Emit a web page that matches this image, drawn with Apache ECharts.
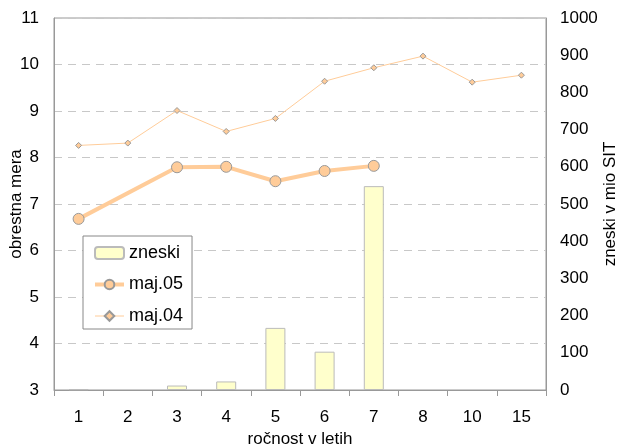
<!DOCTYPE html>
<html>
<head>
<meta charset="utf-8">
<script src="https://cdn.jsdelivr.net/npm/echarts@6/dist/echarts.min.js"></script>
<style>
html,body{margin:0;padding:0;background:#fff;}
#c{width:621px;height:447px;}
</style>
</head>
<body>
<div id="c"></div>
<script>
var categories = ['1','2','3','4','5','6','7','8','10','15'];
var zneski = [2, null, 12, 23, 167, 103, 548, null, null, null];
var maj05 = [6.68, null, 7.79, 7.80, 7.49, 7.71, 7.82, null, null, null];
var maj04 = [8.26, 8.31, 9.01, 8.56, 8.84, 9.64, 9.93, 10.18, 9.62, 9.77];

var font = 'Liberation Sans, Arial, sans-serif';
var chart = echarts.init(document.getElementById('c'));
chart.setOption({
  animation: false,
  textStyle: {fontFamily: font},
  grid: {left: 54, right: 75, top: 18, bottom: 57, containLabel: false, outerBoundsMode: 'none', show: true, borderColor: '#999', borderWidth: 1, backgroundColor: 'transparent'},
  legend: {
    data: [
      {name: 'zneski'},
      {name: 'maj.05', lineStyle: {width: 4}},
      {name: 'maj.04', lineStyle: {width: 1}}
    ],
    orient: 'vertical',
    left: 83, top: 236,
    itemWidth: 29, itemHeight: 12, itemGap: 13.5,
    padding: [8, 9, 4, 10],
    backgroundColor: '#fff', borderColor: '#888', borderWidth: 1, borderRadius: 0,
    textStyle: {fontFamily: font, fontSize: 18, color: '#000'}
  },
  xAxis: {
    type: 'category', data: categories, boundaryGap: true,
    name: 'ročnost v letih', nameLocation: 'middle', nameGap: 40,
    nameTextStyle: {fontFamily: font, fontSize: 17, color: '#000'},
    axisLine: {lineStyle: {color: '#999'}},
    axisTick: {show: true, length: 6, lineStyle: {color: '#999'}},
    axisLabel: {fontFamily: font, fontSize: 17, color: '#000', margin: 19},
    splitLine: {show: false}
  },
  yAxis: [{
    type: 'value', min: 3, max: 11, interval: 1,
    name: 'obrestna mera', nameLocation: 'middle', nameRotate: 90, nameGap: 29,
    nameMoveOverlap: false,
    nameTextStyle: {fontFamily: font, fontSize: 17, color: '#000'},
    axisLine: {show: true, lineStyle: {color: '#999'}},
    axisTick: {show: false},
    axisLabel: {fontFamily: font, fontSize: 17, color: '#000', margin: 15},
    splitLine: {show: true, lineStyle: {color: '#c8c8c8', type: [8, 6]}}
  }, {
    type: 'value', min: 0, max: 1000, interval: 100,
    name: 'zneski v mio SIT', nameLocation: 'middle', nameRotate: 90, nameGap: 56,
    nameMoveOverlap: false,
    nameTextStyle: {fontFamily: font, fontSize: 17, color: '#000'},
    axisLine: {show: true, lineStyle: {color: '#999'}},
    axisTick: {show: false},
    axisLabel: {fontFamily: font, fontSize: 17, color: '#000', margin: 14, formatter: function (v) { return String(v); }},
    splitLine: {show: false}
  }],
  series: [{
    name: 'zneski', type: 'bar', yAxisIndex: 1, data: zneski, barWidth: 20,
    itemStyle: {color: '#FFFFCC', borderColor: '#BBBBBB', borderWidth: 1},
    z: 1
  }, {
    name: 'maj.05', type: 'line', yAxisIndex: 0, data: maj05, connectNulls: true,
    symbol: 'circle', symbolSize: 11, showAllSymbol: true,
    lineStyle: {color: '#FFCC99', width: 4},
    itemStyle: {color: '#FFCC99', borderColor: '#999', borderWidth: 1},
    z: 3
  }, {
    name: 'maj.04', type: 'line', yAxisIndex: 0, data: maj04,
    symbol: 'diamond', symbolSize: 6, showAllSymbol: true,
    lineStyle: {color: '#FFCC99', width: 1},
    itemStyle: {color: '#FFCC99', borderColor: '#999', borderWidth: 1},
    z: 3
  }]
});
</script>
</body>
</html>
